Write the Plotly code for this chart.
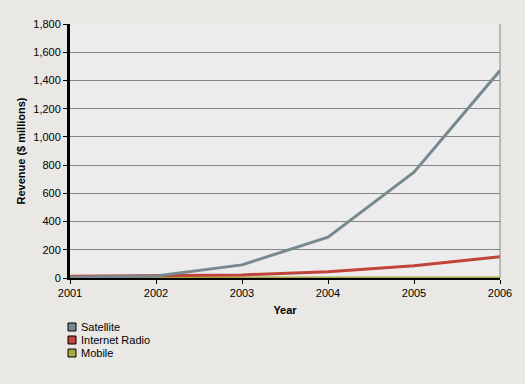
import plotly.graph_objects as go

years = [2001, 2002, 2003, 2004, 2005, 2006]
satellite = [5, 15, 93, 290, 750, 1470]
internet_radio = [12, 17, 22, 45, 87, 151]
mobile = [0, 0, 0, 0, 0, 0]

series = [
    ("Satellite", satellite, "#788a90"),
    ("Internet Radio", internet_radio, "#c0443a"),
    ("Mobile", mobile, "#a8a840"),
]
y_ticks = list(range(0, 1801, 200))

fig = go.Figure()
for name, vals, color in series[::-1]:
    fig.add_trace(go.Scatter(x=years, y=vals, mode="lines", name=name,
                             line=dict(color=color, width=3), showlegend=False))

# manual legend (squares + labels) below the plot
PW, PH = 430.0, 254.0
for i, (name, vals, color) in enumerate(series):
    cy = 327 + 13 * i  # pixel centre from top
    yc = (278 - cy) / PH
    fig.add_shape(type="rect", xref="paper", yref="paper",
                  x0=(68 - 70) / PW, x1=(76 - 70) / PW,
                  y0=yc - 4 / PH, y1=yc + 4 / PH,
                  fillcolor=color, line=dict(color="black", width=1))
    fig.add_annotation(xref="paper", yref="paper", x=(79 - 70) / PW, y=yc,
                       xanchor="left", yanchor="middle", text=name, showarrow=False,
                       font=dict(size=11))

font = "Liberation Sans, Arial, sans-serif"
fig.update_layout(
    width=525, height=384,
    margin=dict(l=70, r=25, t=24, b=106, autoexpand=False),
    paper_bgcolor="#e9e8e4", plot_bgcolor="#ececec",
    font=dict(family=font, size=11, color="black"),
    showlegend=False,
    xaxis=dict(range=[2001, 2006], tickvals=years, ticktext=[str(y) for y in years],
               showgrid=False, zeroline=False, showline=True, linecolor="black",
               linewidth=2, ticks="outside", ticklen=4, tickcolor="black",
               automargin=False,
               title=dict(text="<b>Year</b>", font=dict(size=11), standoff=8)),
    yaxis=dict(range=[0, 1800], tickvals=y_ticks,
               ticktext=[f"{v:,}" for v in y_ticks],
               showgrid=True, gridcolor="#858585", gridwidth=1, zeroline=False,
               showline=True, linecolor="black", linewidth=3, ticks="outside",
               ticklen=4, tickcolor="black", automargin=False,
               title=dict(text="<b>Revenue ($ millions)</b>", font=dict(size=11), standoff=6)),
)
fig.add_shape(type="line", xref="paper", yref="paper", x0=1, x1=1, y0=0, y1=1,
              line=dict(color="#858585", width=1))
fig.write_html("out.html", config={"displayModeBar": False},
               post_script="document.body.style.margin='0';document.body.style.background='#e9e8e4';")
